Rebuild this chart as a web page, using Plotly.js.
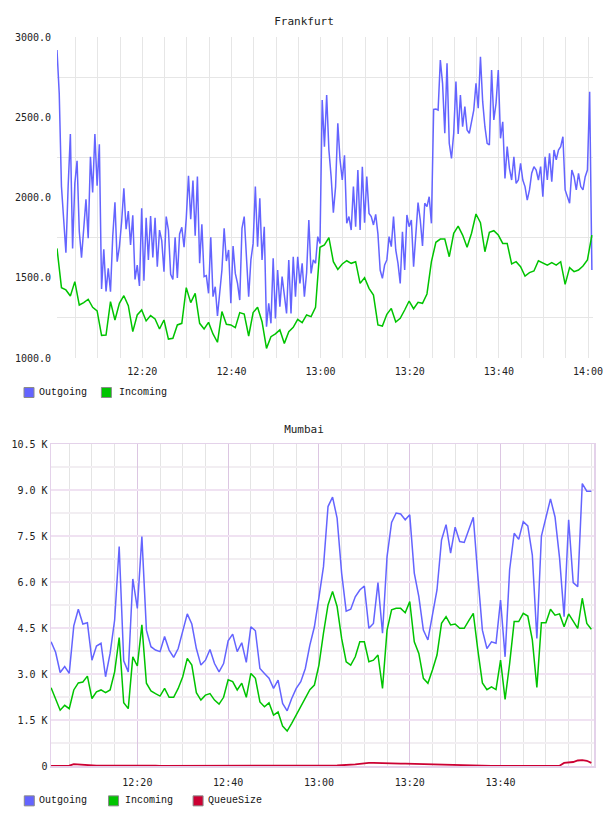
<!DOCTYPE html>
<html>
<head>
<meta charset="utf-8">
<script src="https://cdn.plot.ly/plotly-3.0.1.min.js"></script>
<style>
  html, body { margin: 0; padding: 0; background: #fff; }
  #fra, #mum { width: 608px; height: 408px; }
</style>
</head>
<body>
<div id="fra"></div>
<div id="mum"></div>
<script>
// ---------------- DATA ----------------
const DAY = '2024-01-01';
const TITLES = ['Frankfurt', 'Mumbai'];
const SERIES_NAMES = ['Outgoing', 'Incoming', 'QueueSize'];
const COLORS = ['#6464ff', '#00c400', '#cc0033'];

// Frankfurt: Outgoing sampled every 30 s, Incoming every 60 s, first sample 12:00:52
const FRA_START_SEC = 12 * 3600 + 52;
const FRA_OUT_STEP = 30;
const FRA_IN_STEP = 60;
const FRA_OUT = [
2919,2649,2068,1881,1656,2068,2396,1683,2088,2229,
1789,1625,1797,1989,1746,2254,2032,2396,2074,2331,
1430,1677,1415,1559,1413,1756,1970,1600,1694,1849,
2057,1802,1916,1704,1889,1490,1579,1449,1933,1482,
1874,1611,1885,1627,1874,1569,1797,1731,1538,1881,
1797,1521,1490,1752,1498,1773,1814,1690,1870,2136,
1864,2105,1762,2130,1590,1833,1507,1513,1403,1752,
1382,1444,1262,1403,1548,1808,1604,1673,1341,1698,
1527,1465,1361,1808,1881,1631,1382,1611,1714,2068,
1694,1995,1611,1818,1195,1341,1216,1621,1247,1548,
1320,1507,1372,1278,1611,1278,1631,1382,1631,1465,
1590,1382,1532,1860,1527,1611,1590,1756,1714,2607,
2317,2639,2296,2130,1906,2068,2462,2234,2109,2263,
1839,1881,1797,2068,1818,2171,1797,2192,1843,2130,
1901,1881,1829,1895,1773,1548,1496,1579,1611,1756,
1694,1881,1673,1590,1465,1787,1548,1891,1818,1860,
1569,1797,1968,1860,1698,1964,1943,2005,1839,2549,
2551,2545,2857,2711,2400,2836,2338,2244,2400,2722,
2396,2639,2441,2566,2421,2400,2462,2545,2711,2556,
2877,2597,2441,2338,2327,2794,2483,2587,2794,2369,
2472,2119,2317,2182,2109,2254,2088,2109,2213,2109,
2068,1984,2047,2151,2192,2171,2109,2192,2005,2254,
2109,2275,2099,2296,2234,2296,2317,2379,2047,2005,
1964,2171,2130,2047,2151,2068,2047,2130,2171,2659,
1548
];
const FRA_IN = [
1683,1438,1424,1386,1476,1330,1345,1366,1316,1293,
1141,1143,1351,1237,1341,1388,1326,1164,1268,1299,
1231,1264,1243,1181,1237,1118,1123,1206,1216,1438,
1345,1403,1216,1181,1222,1150,1098,1289,1210,1206,
1189,1283,1274,1137,1283,1316,1226,1060,1133,1150,
1175,1091,1164,1191,1241,1220,1268,1258,1316,1690,
1704,1750,1600,1552,1586,1606,1590,1600,1465,1500,
1434,1392,1206,1199,1272,1309,1224,1247,1299,1355,
1307,1347,1341,1399,1600,1721,1741,1741,1631,1777,
1822,1766,1690,1777,1897,1843,1662,1783,1793,1766,
1714,1714,1586,1600,1569,1511,1532,1542,1606,1590,
1579,1594,1579,1600,1459,1563,1538,1548,1573,1611,
1766
];
const FRA_Y_TICKS = [1000, 1500, 2000, 2500, 3000];
const FRA_Y_MINOR = [1250, 1750, 2250, 2750];

// Mumbai: one sample per minute from 12:01
const MUM_START_SEC = 12 * 3600 + 60;
const MUM_STEP = 60;
const MUM_OUT = [
4050,3710,3050,3240,3020,4570,5110,4630,4670,3450,
3910,4000,2910,3670,4760,7160,3430,3070,6100,5140,
7480,4430,3890,3780,3730,4220,3780,3540,3830,4430,
4960,4630,3830,3290,3450,3800,3340,3070,3340,4080,
4300,3730,4020,3380,4540,4410,3180,3020,2860,2530,
2800,2040,1800,2200,2530,2750,3180,3940,4540,5500,
6500,8460,8770,8080,6290,5050,5110,5520,5740,5870,
4490,4650,5980,4330,6830,7940,8250,8220,8030,8190,
6290,5520,4430,4110,4900,5740,7370,7870,6940,7790,
7320,7290,7700,8110,6200,4430,3830,4050,4000,5410,
3560,6400,7590,7390,7970,7830,6880,4160,7500,8140,
8710,8120,6780,4870,8030,5980,5850,9210,8960,8960
];
const MUM_IN = [
2550,2150,1820,1980,1870,2480,2710,2740,2930,2200,
2420,2480,2390,2480,3070,4190,2060,1870,3560,3260,
4600,2700,2450,2360,2280,2530,2240,2240,2530,2910,
3510,3290,2390,2150,2310,2360,2150,2020,2240,2810,
2750,2480,2700,2240,3020,2860,2090,1930,2060,1660,
1760,1300,1140,1390,1660,1930,2200,2490,2640,3290,
4330,5250,5690,5200,4160,3400,3290,3560,4050,4050,
3400,3450,3620,2530,4430,5090,5140,5140,5000,5360,
4050,3670,2860,2700,3130,3620,4650,4870,4600,4630,
4490,4490,4740,4980,3780,2710,2490,2580,2490,3450,
2170,3340,4710,4710,4980,4890,4110,2560,4670,4670,
5110,4920,4960,4540,4960,4710,4490,5470,4650,4460
];
const MUM_QUEUE = [
0,0,0,0,10,60,50,20,10,0,
10,10,10,20,30,30,30,20,20,10,
20,20,10,10,5,5,5,5,5,0,
0,0,0,0,0,0,0,0,0,0,
0,0,0,0,0,0,0,0,0,0,
0,0,0,0,0,0,0,0,5,5,
5,5,10,20,25,30,35,50,70,90,
100,100,100,95,90,90,85,80,75,70,
70,70,65,60,55,50,50,50,45,40,
40,35,30,25,20,15,10,5,5,5,
5,5,5,5,5,5,5,5,5,5,
5,5,10,100,110,130,180,190,170,100
];
const MUM_Y_TICKS = [0, 1500, 3000, 4500, 6000, 7500, 9000, 10500];
const MUM_Y_LABELS = ['0', '1.5 K', '3.0 K', '4.5 K', '6.0 K', '7.5 K', '9.0 K', '10.5 K'];
const MUM_Y_MINOR = [750, 2250, 3750, 5250, 6750, 8250, 9750];
const FRA_X_TICKS = ['12:20', '12:40', '13:00', '13:20', '13:40', '14:00'];
const MUM_X_TICKS = ['12:20', '12:40', '13:00', '13:20', '13:40'];

// ---------------- HELPERS ----------------
function pad(n) { return (n < 10 ? '0' : '') + n; }
function ts(sec) {
  const h = Math.floor(sec / 3600), m = Math.floor((sec % 3600) / 60), s = Math.round(sec % 60);
  return DAY + ' ' + pad(h) + ':' + pad(m) + ':' + pad(s);
}
function times(startSec, step, n) { const a = []; for (let i = 0; i < n; i++) a.push(ts(startSec + i * step)); return a; }
function hm(label) { return DAY + ' ' + label + ':00'; }

const MONO = 'DejaVu Sans Mono, monospace';
const LEG_FONT = 'Liberation Mono, Courier New, monospace';
const W = 608, H = 408;

function legend(M, names, colors, squaresX, textX, yc) {
  const pw = W - M.l - M.r, ph = H - M.t - M.b;
  const fx = px => (px - M.l) / pw;
  const fy = py => (H - M.b - py) / ph;
  const shapes = [], ann = [];
  names.forEach((n, i) => {
    shapes.push({ type: 'rect', xref: 'paper', yref: 'paper',
      x0: fx(squaresX[i]), x1: fx(squaresX[i] + 10), y0: fy(yc - 5), y1: fy(yc + 5),
      fillcolor: colors[i], line: { color: '#8a8a8a', width: 1 } });
    ann.push({ xref: 'paper', yref: 'paper', x: fx(textX[i]), y: fy(yc), xanchor: 'left', yanchor: 'middle',
      text: n, showarrow: false, borderpad: 0, font: { family: LEG_FONT, size: 10, color: '#111' } });
  });
  return { shapes, ann };
}

// ---------------- FRANKFURT ----------------
const fraOutX = times(FRA_START_SEC, FRA_OUT_STEP, FRA_OUT.length);
const fraInX = times(FRA_START_SEC, FRA_IN_STEP, FRA_IN.length);
const M1 = { l: 57.3, r: 14.7, t: 37, b: 50 };
const lg1 = legend(M1, SERIES_NAMES.slice(0, 2), COLORS.slice(0, 2), [24.3, 101.7], [38.5, 117.8], 392.5);

Plotly.newPlot('fra', [
  { x: fraOutX, y: FRA_OUT, name: SERIES_NAMES[0], type: 'scatter', mode: 'lines',
    line: { color: COLORS[0], width: 1.5 }, showlegend: false, hoverinfo: 'skip' },
  { x: fraInX, y: FRA_IN, name: SERIES_NAMES[1], type: 'scatter', mode: 'lines',
    line: { color: COLORS[1], width: 1.5 }, showlegend: false, hoverinfo: 'skip' }
], {
  width: W, height: H, margin: M1, paper_bgcolor: '#fff', plot_bgcolor: '#fff',
  font: { family: MONO, size: 10, color: '#222' },
  title: { text: TITLES[0], x: 0.5, xref: 'container', xanchor: 'center', y: 1 - 20.7 / H, yref: 'container', yanchor: 'middle',
    font: { family: MONO, size: 11, color: '#222' } },
  showlegend: false,
  xaxis: { type: 'date', range: [ts(FRA_START_SEC), ts(14 * 3600 + 67)],
    tickmode: 'array', tickvals: FRA_X_TICKS.map(hm), ticktext: FRA_X_TICKS,
    showgrid: true, gridcolor: '#e6e6e6', gridwidth: 1, zeroline: false, showline: false, ticks: '',
    ticklabelstandoff: 6,
    minor: { dtick: 300000, tick0: hm('12:00'), showgrid: true, gridcolor: '#e6e6e6', gridwidth: 1, ticks: '' } },
  yaxis: { range: [1000, 3000], tickmode: 'array', tickvals: FRA_Y_TICKS, tickformat: '.1f',
    showgrid: false, zeroline: false, showline: false, ticks: '', ticklabelstandoff: 5,
    minor: { tickmode: 'array', tickvals: FRA_Y_MINOR, showgrid: true, gridcolor: '#e6e6e6', gridwidth: 1, ticks: '' } },
  shapes: lg1.shapes, annotations: lg1.ann
}, { staticPlot: true });

// ---------------- MUMBAI ----------------
const mumX = times(MUM_START_SEC, MUM_STEP, MUM_OUT.length);
const M2 = { l: 51, r: 14.3, t: 36.3, b: 50.3 };
const lg2 = legend(M2, SERIES_NAMES, COLORS, [24.3, 108.5, 193], [38.5, 123.5, 206.5], 392.5);

Plotly.newPlot('mum', [
  { x: mumX, y: MUM_OUT, name: SERIES_NAMES[0], type: 'scatter', mode: 'lines',
    line: { color: COLORS[0], width: 1.5 }, showlegend: false, hoverinfo: 'skip' },
  { x: mumX, y: MUM_IN, name: SERIES_NAMES[1], type: 'scatter', mode: 'lines',
    line: { color: COLORS[1], width: 1.5 }, showlegend: false, hoverinfo: 'skip' },
  { x: mumX, y: MUM_QUEUE, name: SERIES_NAMES[2], type: 'scatter', mode: 'lines',
    line: { color: COLORS[2], width: 1.8 }, showlegend: false, hoverinfo: 'skip' }
], {
  width: W, height: H, margin: M2, paper_bgcolor: '#fff', plot_bgcolor: '#fff',
  font: { family: MONO, size: 10, color: '#222' },
  title: { text: TITLES[1], x: 0.5, xref: 'container', xanchor: 'center', y: 1 - 21 / H, yref: 'container', yanchor: 'middle',
    font: { family: MONO, size: 11, color: '#222' } },
  showlegend: false,
  xaxis: { type: 'date', range: [ts(12 * 3600 + 59), ts(14 * 3600 + 35)],
    tickmode: 'array', tickvals: MUM_X_TICKS.map(hm), ticktext: MUM_X_TICKS,
    showgrid: true, gridcolor: '#dcc6e2', gridwidth: 1, zeroline: false,
    showline: true, mirror: true, linecolor: '#e4d2ea', linewidth: 1.5, ticks: '',
    ticklabelstandoff: 6,
    minor: { dtick: 300000, tick0: hm('12:00'), showgrid: true, gridcolor: '#e4e4e4', gridwidth: 1, ticks: '' } },
  yaxis: { range: [0, 10500], tickmode: 'array', tickvals: MUM_Y_TICKS, ticktext: MUM_Y_LABELS,
    showgrid: true, gridcolor: '#f0e2f2', gridwidth: 2, zeroline: false,
    showline: true, mirror: true, linecolor: '#e4d2ea', linewidth: 1.5, ticks: '', ticklabelstandoff: 0,
    minor: { tickmode: 'array', tickvals: MUM_Y_MINOR, showgrid: true, gridcolor: '#f2eef2', gridwidth: 2, ticks: '' } },
  shapes: lg2.shapes, annotations: lg2.ann
}, { staticPlot: true });
</script>
</body>
</html>
